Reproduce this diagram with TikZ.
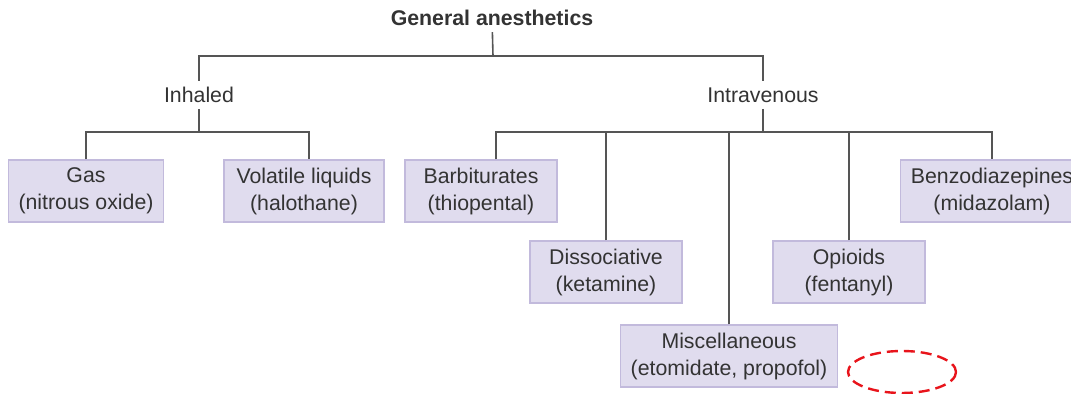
\documentclass[tikz,border=0pt]{standalone}
\usepackage{fontspec}
\setmainfont{Liberation Sans}
\definecolor{textgray}{HTML}{333333}
\definecolor{linegray}{HTML}{555555}
\definecolor{boxfill}{HTML}{E0DCEE}
\definecolor{boxline}{HTML}{C2BADC}
\definecolor{hintred}{HTML}{E8141B}
\begin{document}
\begin{tikzpicture}[
		x=0.5pt, y=-0.5pt,
		font=\fontsize{10.65}{13.5}\selectfont,
		drug/.style={draw=boxline, fill=boxfill, line width=0.6pt, text=textgray,
			minimum width=76pt, minimum height=31pt, align=center, inner xsep=5pt},
		route/.style={text=textgray, inner sep=3pt},
		edge/.style={draw=linegray, line width=0.8pt},
		hint/.style={draw=hintred, line width=1.2pt, dash pattern=on 5.5pt off 3pt}
	]
	\useasboundingbox (0,0) rectangle (1071,394);
	\node[route] (title) at (492,18) {\textbf{General anesthetics}};
	\node[route] (inh) at (199,95) {Inhaled};
	\node[route] (iv) at (763,95) {Intravenous};
	\node[drug] (gas) at (86,191) {Gas\\(nitrous oxide)};
	\node[drug, minimum width=80pt] (vol) at (304,191) {Volatile liquids\\(halothane)};
	\node[drug] (barb) at (481,191) {Barbiturates\\(thiopental)};
	\node[drug] (diss) at (606,272) {Dissociative\\(ketamine)};
	\node[drug] (misc) at (729,356) {Miscellaneous\\(etomidate, propofol)};
	\node[drug] (opi) at (849,272) {Opioids\\(fentanyl)};
	\node[drug] (benzo) at (992,191) {Benzodiazepines\\(midazolam)};
	\coordinate (top) at (493,56);
	\coordinate (jinh) at (199,132);
	\coordinate (jiv) at (763,132);
	% connectors
	\draw[edge] (title) -- (top);
	\draw[edge] (inh) |- (top) -| (iv);
	\draw[edge] (inh) -- (jinh);
	\draw[edge] (gas) |- (jinh) -| ([xshift=2.5pt]vol.north);
	\draw[edge] (iv) -- (jiv);
	\draw[edge] ([xshift=7.5pt]barb.north) |- (jiv) -| (benzo);
	\foreach \n in {diss,misc,opi}
		\draw[edge] (\n) -- (\n |- jiv);
	\draw[hint] (902,372) ellipse [x radius=54, y radius=21];
\end{tikzpicture}
\end{document}
